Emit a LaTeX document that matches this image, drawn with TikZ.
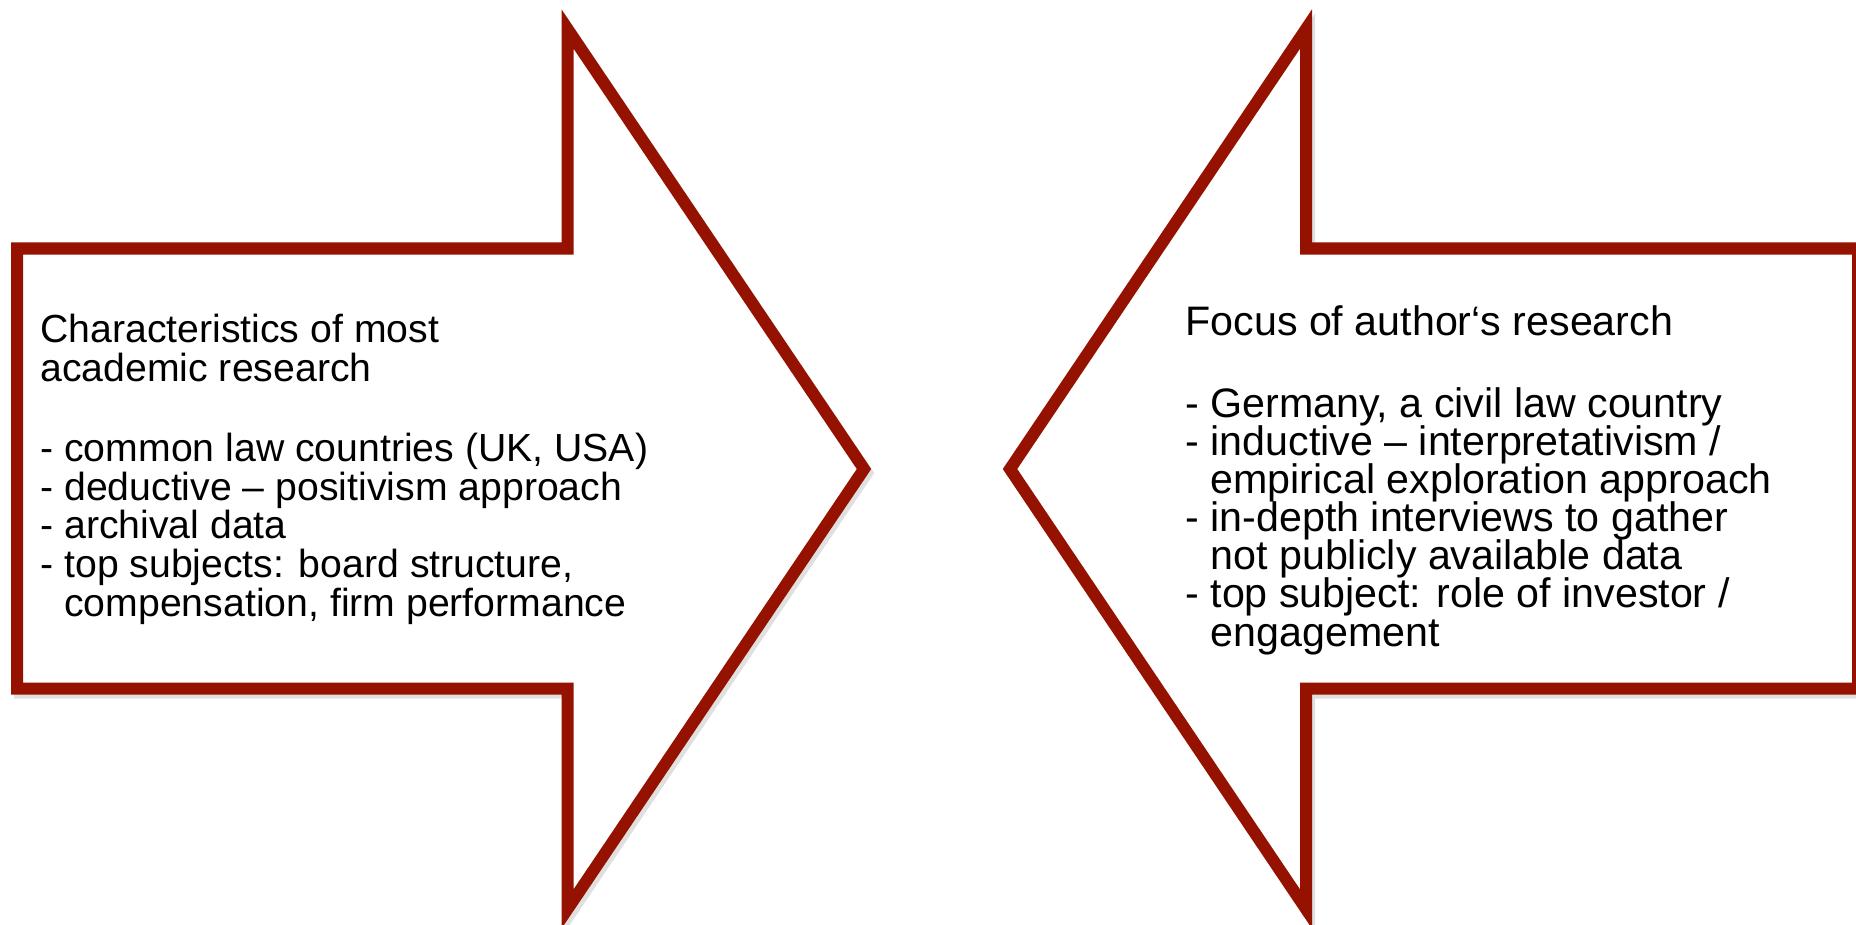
\documentclass[tikz,border=0pt]{standalone}
\usepackage{fontspec}
\setmainfont{Liberation Sans}
\newfontfamily\slidesans[Ligatures=TeX]{Liberation Sans}
\definecolor{arrowred}{RGB}{150,18,0}
\begin{document}
\setlength{\lineskiplimit}{-100pt}%
\begin{tikzpicture}[x=0.5pt,y=-0.5pt,
  arrowline/.style={draw=arrowred,line width=6pt,miter limit=10,line join=miter,fill=white},
  shadowline/.style={draw=black,opacity=0.12,line width=6pt,line join=miter},
  bodytext/.style={anchor=base west,inner sep=0pt,align=left}]
\useasboundingbox (0,0) rectangle (1856,925);
\clip (0,0) rectangle (1856,925);
\fill[white] (0,0) rectangle (1856,925);
% shadows
\draw[shadowline,shift={(3,4)}] (17,248.5) -- (567.5,248.5) -- (567.5,29) -- (864,469) -- (567.5,909) -- (567.5,688.5) -- (17,688.5) -- cycle;
\draw[shadowline,shift={(3,4)}] (1858,248.5) -- (1306,248.5) -- (1306,29) -- (1010,469) -- (1306,909) -- (1306,688.5) -- (1858,688.5) -- cycle;
% left arrow
\draw[arrowline] (17,248.5) -- (567.5,248.5) -- (567.5,29) -- (864,469) -- (567.5,909) -- (567.5,688.5) -- (17,688.5) -- cycle;
% right arrow
\draw[arrowline] (1858,248.5) -- (1306,248.5) -- (1306,29) -- (1010,469) -- (1306,909) -- (1306,688.5) -- (1858,688.5) -- cycle;
% texts (anchored at the baseline of the last line)
\node[bodytext,font=\slidesans\fontsize{19.6}{19.3}\selectfont] (lefttext) at (40,616) {Characteristics of most\\
academic research\\[21pt]
- common law countries (UK, USA)\\
- deductive – positivism approach\\
- archival data\\
- top subjects: board structure,\\
\hphantom{- }compensation, firm performance};
\node[bodytext,font=\slidesans\fontsize{20.6}{19.05}\selectfont] (righttext) at (1185,646) {Focus of author‘s research\\[21.8pt]
- Germany, a civil law country\\
- inductive – interpretativism /\\
\hphantom{- }empirical exploration approach\\
- in-depth interviews to gather\\
\hphantom{- }not publicly available data\\
- top subject: role of investor /\\
\hphantom{- }engagement};
\end{tikzpicture}
\end{document}
